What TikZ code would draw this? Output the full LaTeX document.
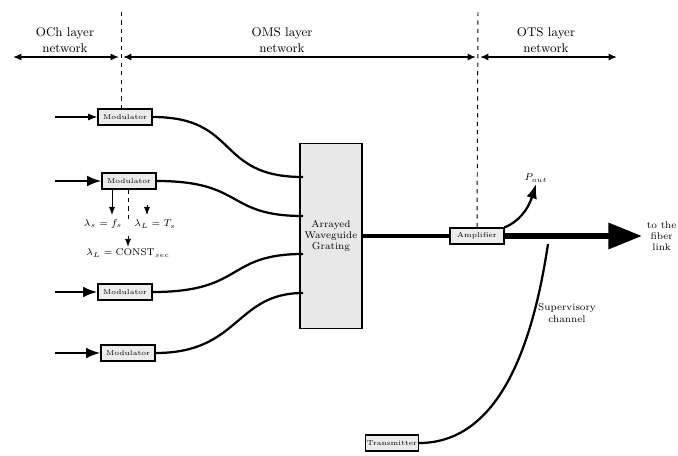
\documentclass[tikz,border=0pt]{standalone}
\usepackage{tikz}
\usetikzlibrary{arrows.meta}

\begin{document}
\begin{tikzpicture}[x=0.025cm,y=-0.025cm,>=Latex,line width=0.8pt,
 mod/.style={draw,fill=gray!15,minimum width=1.35cm,minimum height=0.4cm,inner sep=1pt,font=\tiny},
 awgbox/.style={draw,fill=gray!18,minimum width=1.38cm,minimum height=4.63cm,align=center,font=\scriptsize},
 lab/.style={align=center,font=\small,inner sep=1pt},
 small/.style={font=\scriptsize,inner sep=1pt},
 sep/.style={dashed,line width=0.7pt},
 span/.style={<->,>={Latex[length=6pt,width=5pt]},line width=1pt},
 fib/.style={line width=1.6pt}]
\useasboundingbox (0,0) rectangle (678,455);
% layer ranges
\coordinate (och0) at (13,57);
\coordinate (och1) at (119,57);
\coordinate (oms0) at (123,57);
\coordinate (oms1) at (476,57);
\coordinate (ots0) at (480,57);
\coordinate (ots1) at (617,57);
\draw[span] (och0) -- (och1);
\draw[span] (oms0) -- (oms1);
\draw[span] (ots0) -- (ots1);
\node[lab] (ochl) at (65,40) {OCh layer\\network};
\node[lab] (omsl) at (282,40) {OMS layer\\network};
\node[lab] (otsl) at (546,40) {OTS layer\\network};
% modulators
\node[mod] (m1) at (125,117) {Modulator};
\node[mod] (m2) at (129,181) {Modulator};
\node[mod] (m3) at (125,292) {Modulator};
\node[mod] (m4) at (128,353) {Modulator};
\coordinate (in1) at (55,117);
\coordinate (in2) at (55,181);
\coordinate (in3) at (55,292);
\coordinate (in4) at (55,353);
\draw[->] (in1) -- (m1);
\draw[->,fib] (in2) -- (m2);
\draw[->,fib] (in3) -- (m3);
\draw[->,fib] (in4) -- (m4);
% separators
\coordinate (d1) at (121,12);
\coordinate (d2) at (478,12);
\draw[sep] (d1) -- (d1 |- m1.north);
% arrayed waveguide grating
\node[awgbox] (awg) at (331,236) {Arrayed\\Waveguide\\Grating};
\coordinate (p1) at (303,177);
\coordinate (p2) at (303,216);
\coordinate (p3) at (303,254);
\coordinate (p4) at (303,293);
\draw[fib] (m1.east) .. controls (240,117) and (215,177) .. (p1);
\draw[fib] (m2.east) .. controls (245,181) and (225,216) .. (p2);
\draw[fib] (m3.east) .. controls (245,292) and (225,254) .. (p3);
\draw[fib] (m4.east) .. controls (240,353) and (235,293) .. (p4);
% wavelength labels
\node[small] (ls) at (103,224) {$\lambda_s=f_s$};
\node[small] (lt) at (155,224) {$\lambda_L=T_s$};
\node[small] (lc) at (128,253) {$\lambda_L=\mathrm{CONST}_{sec}$};
\coordinate (lt0) at (147,205);
\coordinate (lc0) at (128,220);
\coordinate (lc1) at (128,236);
\draw[->,line width=0.6pt] (m2.south -| 112,0) -- (112,215);
\draw[sep,line width=0.6pt] (m2.south -| lc0) -- (lc0);
\draw[->,line width=0.6pt] (lt0) -- (147,215);
\draw[->,line width=0.6pt] (lc1) -- (lc.north);
% amplifier and output
\node[mod] (amp) at (477,236) {Amplifier};
\draw[sep] (d2) -- (amp.north);
\draw[line width=2.2pt] (awg.east |- amp) -- (amp.west);
\coordinate (out) at (642,236);
\draw[-{Triangle[length=24pt,width=18pt]},line width=4pt] (amp.east) -- (out);
\node[small,align=center,anchor=west] (outl) at (645,236) {to the\\fiber\\link};
\node[small] (pout) at (536,178) {$P_{out}$};
\draw[->,fib] (amp.north east) .. controls (518,222) and (528,210) .. (pout.south);
% supervisory channel
\node[mod,minimum width=1.2cm] (tx) at (392,443) {Transmitter};
\coordinate (join) at (548,244);
\draw[fib] (tx.east) .. controls (505,443) and (535,330) .. (join);
\node[small,align=center] (supl) at (567,313) {Supervisory\\channel};
\end{tikzpicture}
\end{document}
